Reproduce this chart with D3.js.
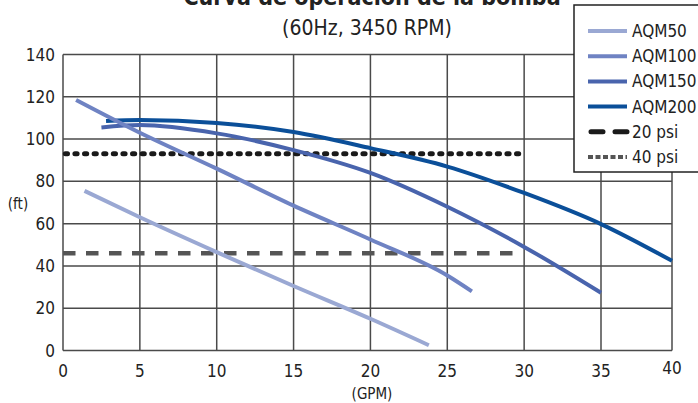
<!DOCTYPE html>
<html>
<head>
<meta charset="utf-8">
<script src="https://cdn.jsdelivr.net/npm/d3@7"></script>
<style>
  body { margin: 0; background: #fff; }
  svg text { font-family: "Liberation Sans Narrow", "Arial Narrow", "DejaVu Sans Condensed", sans-serif; fill: #222; }
  .grid line { stroke: #4a4a4a; stroke-width: 1.5; }
</style>
</head>
<body>
<div id="chart"></div>
<script>
const width = 698, height = 403;

// pump curves, head (ft) vs flow (GPM)
const aqm50 = [[1.4, 75.5], [5, 63], [10, 46.5], [15, 30.5], [20, 15], [23.8, 2.5]];
const aqm100 = [[0.85, 118.5], [5, 103], [10, 86], [15, 68.5], [20, 52.5], [25, 35.5], [26.6, 28]];
const aqm150 = [[2.5, 105.5], [5, 106.6], [10, 102.7], [15, 94.8], [20, 84], [25, 68], [30, 49], [35, 27.3]];
const aqm200 = [[2.8, 108.5], [5, 109], [10, 107.6], [15, 103.3], [20, 95.7], [25, 87], [30, 74.5], [35, 59.8], [40, 42.4]];
const psi20 = [[0.15, 93], [29.85, 93]];
const psi40 = [[0, 46], [29.8, 46]];

const seriesNames = ['AQM50', 'AQM100', 'AQM150', 'AQM200', '20 psi', '40 psi'];
const xTicks = [0, 5, 10, 15, 20, 25, 30, 35, 40];
const yTicks = [0, 20, 40, 60, 80, 100, 120, 140];

const svg = d3.select('#chart').append('svg')
  .attr('width', width).attr('height', height);

// x axis is squeezed in the last interval in the original
const x = d3.scaleLinear().domain([0, 35, 40]).range([63, 601, 672]);
const y = d3.scaleLinear().domain([0, 140]).range([350.5, 54.5]);

const grid = svg.append('g').attr('class', 'grid');
grid.selectAll('line.h').data(yTicks).join('line').attr('class', 'h')
  .attr('x1', x(0)).attr('x2', x(40))
  .attr('y1', d => y(d)).attr('y2', d => y(d));
grid.selectAll('line.v').data(xTicks).join('line').attr('class', 'v')
  .attr('x1', d => x(d)).attr('x2', d => x(d))
  .attr('y1', y(0)).attr('y2', y(140));

svg.append('g').selectAll('text').data(yTicks).join('text')
  .attr('x', 55).attr('y', d => y(d) + 6)
  .attr('text-anchor', 'end').attr('font-size', 17)
  .text(d => d);

svg.append('g').selectAll('text').data(xTicks).join('text')
  .attr('x', d => x(d)).attr('y', d => d === 40 ? 374 : 377)
  .attr('text-anchor', 'middle').attr('font-size', 17)
  .text(d => d);

svg.append('text').attr('x', 18).attr('y', 209)
  .attr('text-anchor', 'middle').attr('font-size', 15).text('(ft)');
svg.append('text').attr('x', 372).attr('y', 399)
  .attr('text-anchor', 'middle').attr('font-size', 15).text('(GPM)');

svg.append('text').attr('x', 372).attr('y', 5)
  .attr('text-anchor', 'middle').attr('font-size', 23).attr('font-weight', 'bold')
  .text('Curva de operación de la bomba');
svg.append('text').attr('x', 367).attr('y', 35)
  .attr('text-anchor', 'middle').attr('font-size', 21)
  .text('(60Hz, 3450 RPM)');

const line = d3.line().x(d => x(d[0])).y(d => y(d[1])).curve(d3.curveMonotoneX);

const styles = [
  { data: aqm50, color: '#9aa8d3', w: 4, dash: null, cap: 'butt' },
  { data: aqm100, color: '#6f83c3', w: 4, dash: null, cap: 'butt' },
  { data: aqm150, color: '#4964ad', w: 4, dash: null, cap: 'butt' },
  { data: aqm200, color: '#0b4f99', w: 4, dash: null, cap: 'butt' },
  { data: psi20, color: '#1a1a1a', w: 5, dash: '2.2,7.4', cap: 'round' },
  { data: psi40, color: '#555', w: 4.5, dash: '12.5,10.5', cap: 'butt' }
];

svg.append('g').selectAll('path').data(styles.slice().reverse()).join('path')
  .attr('d', d => line(d.data))
  .attr('fill', 'none')
  .attr('stroke', d => d.color)
  .attr('stroke-width', d => d.w)
  .attr('stroke-linecap', d => d.cap)
  .attr('stroke-dasharray', d => d.dash);

// legend (dash styles of the psi entries differ from the plot in the original)
const legendDash = [null, null, null, null, '12,12', '5,2.5'];
const leg = svg.append('g');
leg.append('rect').attr('x', 574).attr('y', 5).attr('width', 140).attr('height', 167)
  .attr('fill', '#fff').attr('stroke', '#222').attr('stroke-width', 1.5);
seriesNames.forEach((name, i) => {
  const cy = 31 + i * 25.2;
  leg.append('line')
    .attr('x1', name === '20 psi' ? 591 : 588).attr('x2', 627)
    .attr('y1', cy).attr('y2', cy)
    .attr('stroke', styles[i].color)
    .attr('stroke-width', i === 4 ? 5 : 4)
    .attr('stroke-linecap', i === 4 ? 'round' : 'butt')
    .attr('stroke-dasharray', legendDash[i]);
  leg.append('text').attr('x', 632).attr('y', cy + 6)
    .attr('font-size', 17).text(name);
});
</script>
</body>
</html>
